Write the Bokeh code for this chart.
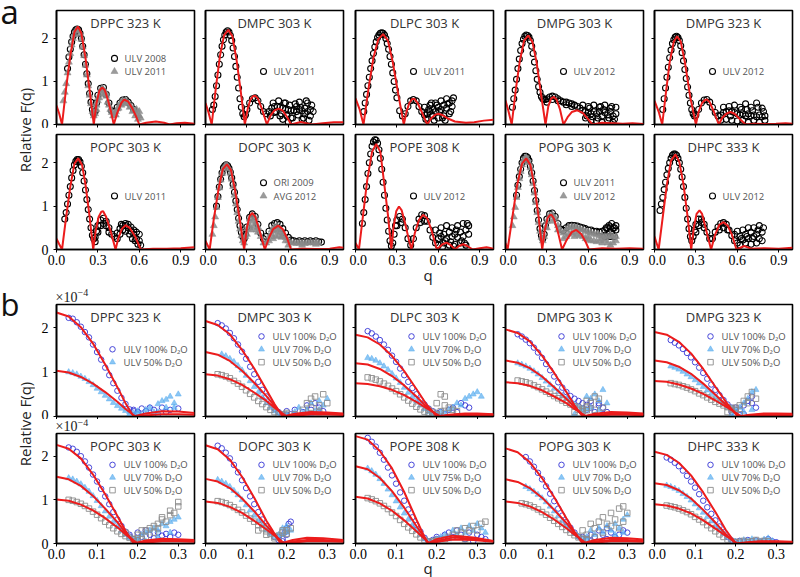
import math
from bokeh.plotting import figure
from bokeh.layouts import row, column
from bokeh.models import Range1d, FixedTicker, PrintfTickFormatter, Label
from bokeh.core.properties import value
from bokeh.embed import file_html
from bokeh.resources import INLINE

# ---------------- shared q grids ----------------
QA = [0.04,0.05,0.06,0.07,0.08,0.09,0.10,0.11,0.12,0.13,0.14,0.15,0.16,0.17,0.18,0.19,0.20,
      0.21,0.22,0.23,0.24,0.25,0.26,0.27,0.28,0.29,0.30,0.32,0.34,0.36,0.38,0.40,0.42,0.44,
      0.46,0.48,0.50,0.52,0.54,0.56,0.58,0.60,0.62,0.64,0.66,0.68,0.70,0.72,0.74,0.76,0.78,
      0.80,0.82,0.84]
QB = [0.03,0.04,0.05,0.06,0.07,0.08,0.09,0.10,0.11,0.12,0.13,0.14,0.15,0.16,0.17,0.18,0.19,0.20]

A_XTICKS = [0.0, 0.3, 0.6, 0.9]
B_XTICKS = [0.0, 0.1, 0.2, 0.3]
Y_TICKS = [0, 1, 2]

# ---------------- (a) panels ----------------
DPPC_CQ = [0,0.02,0.04,0.07,0.10,0.13,0.155,0.18,0.21,0.24,0.27,0.29,0.31,0.33,0.35,0.37,0.395,0.415,0.44,0.47,0.49,0.52,0.55,0.575,0.60,0.65,0.72,0.78,0.82,0.87,0.93,1.0]
DPPC_CF = [0.44,0.25,0,0.85,1.6,2.15,2.28,2.12,1.55,0.8,0,0.5,0.78,0.86,0.8,0.6,0.3,0,0.27,0.5,0.58,0.53,0.37,0.2,0,0.04,0.07,0.04,0,0.03,0.04,0.02]
DPPC_08 = [1.3,1.57,1.75,1.92,2.05,2.15,2.2,2.22,2.2,2.12,2.0,1.82,1.62,1.4,1.18,0.95,0.72,0.52,0.35,0.25,0.3,0.5,0.68,0.84,0.86,0.7,0.5,0.32,0.3,0.4,0.5,0.57,0.58,0.52,0.44,0.35]
DPPC_11 = [0.55,0.75,0.95,1.2,1.45,1.65,1.85,2.0,2.1,2.18,2.2,2.18,2.1,1.98,1.8,1.6,1.38,1.15,0.9,0.68,0.48,0.3,0.2,0.25,0.45,0.62,0.78,0.8,0.66,0.45,0.28,0.25,0.36,0.48,0.55,0.56,0.5,0.42,0.33,0.25,0.2]
DPPC_11_XQ = [0.29,0.31,0.33,0.35,0.37,0.39,0.41,0.43,0.45,0.47,0.49,0.51,0.53,0.55,0.57,0.59,0.61,0.60,0.58,0.30,0.33,0.36,0.43,0.47]
DPPC_11_XF = [0.35,0.62,0.72,0.7,0.52,0.35,0.2,0.22,0.38,0.45,0.5,0.48,0.4,0.3,0.2,0.12,0.15,0.3,0.35,0.55,0.85,0.72,0.3,0.52]

DMPC_CQ = [0,0.02,0.045,0.075,0.105,0.135,0.165,0.195,0.225,0.255,0.285,0.305,0.325,0.345,0.36,0.38,0.41,0.445,0.47,0.5,0.53,0.56,0.59,0.62,0.69,0.77,0.85,0.93,1.0]
DMPC_CF = [0.5,0.3,0,0.85,1.6,2.08,2.2,2.05,1.5,0.78,0,0.35,0.58,0.66,0.67,0.6,0.35,0,0.2,0.33,0.37,0.32,0.18,0,0.06,0,0.03,0.05,0.05]
DMPC_11 = [0.35,0.45,0.65,0.9,1.15,1.4,1.62,1.82,1.97,2.08,2.15,2.18,2.15,2.07,1.95,1.78,1.58,1.35,1.1,0.85,0.6,0.4,0.25,0.18,0.22,0.35,0.5,0.6,0.62,0.55,0.42,0.3,0.25,0.3,0.38,0.42,0.42,0.4,0.38,0.35,0.35,0.32,0.33,0.3,0.35,0.32,0.38,0.3,0.35,0.3]
DMPC_11_XQ = [0.47,0.49,0.51,0.53,0.55,0.57,0.59,0.61,0.63,0.65,0.67,0.69,0.71,0.73,0.75,0.77,0.5,0.54,0.58,0.62,0.66,0.7,0.74,0.6,0.68,0.76,0.72,0.56]
DMPC_11_XF = [0.2,0.5,0.3,0.55,0.25,0.5,0.2,0.45,0.15,0.48,0.22,0.4,0.15,0.55,0.1,0.45,0.28,0.2,0.5,0.15,0.42,0.12,0.5,0.05,0.52,0.2,0.25,0.12]

DLPC_CQ = [0,0.03,0.058,0.095,0.13,0.165,0.2,0.235,0.27,0.31,0.35,0.37,0.39,0.41,0.425,0.45,0.49,0.52,0.55,0.58,0.6,0.63,0.67,0.72,0.8,0.86,0.93,1.0]
DLPC_CF = [0.61,0.35,0,0.85,1.55,1.98,2.1,1.95,1.45,0.7,0,0.3,0.5,0.59,0.6,0.5,0.22,0,0.15,0.23,0.25,0.22,0.14,0.07,0.04,0.05,0.09,0.11]
DLPC_11 = [0.3,0.5,0.7,0.9,1.1,1.3,1.48,1.65,1.8,1.92,2.02,2.08,2.12,2.13,2.12,2.08,2.0,1.88,1.75,1.58,1.4,1.2,1.0,0.8,0.62,0.32,0.2,0.25,0.42,0.55,0.58,0.55,0.42,0.3,0.22,0.25,0.3,0.35,0.3,0.4,0.35,0.45,0.38,0.5,0.42]
DLPC_11_XQ = [0.5,0.52,0.54,0.56,0.58,0.6,0.62,0.64,0.66,0.68,0.7,0.53,0.57,0.61,0.65,0.69,0.55,0.59,0.63,0.67,0.71,0.51]
DLPC_11_XF = [0.4,0.15,0.45,0.2,0.5,0.15,0.55,0.2,0.6,0.25,0.55,0.35,0.1,0.3,0.1,0.3,0.5,0.45,0.15,0.48,0.62,0.12]

DMPG3_CQ = [0,0.02,0.045,0.075,0.105,0.135,0.165,0.195,0.225,0.26,0.29,0.31,0.33,0.35,0.37,0.395,0.42,0.45,0.48,0.52,0.56,0.6,0.63,0.7,0.78,0.85,0.92,1.0]
DMPG3_CF = [0.56,0.33,0,0.82,1.5,1.95,2.07,1.92,1.45,0.65,0,0.42,0.6,0.64,0.58,0.35,0,0.17,0.29,0.33,0.27,0.12,0,0.04,0.03,0.02,0.03,0.01]
DMPG3_12 = [0.4,0.6,0.8,1.05,1.3,1.52,1.72,1.88,1.98,2.05,2.08,2.07,2.03,1.95,1.82,1.65,1.45,1.25,1.05,0.88,0.75,0.65,0.6,0.58,0.58,0.6,0.64,0.66,0.64,0.6,0.55,0.52,0.52,0.5,0.48,0.45,0.42,0.38,0.33,0.3,0.28,0.25,0.3,0.25,0.3,0.2,0.28,0.22,0.3,0.2,0.25]
DMPG3_12_XQ = [0.56,0.58,0.6,0.62,0.64,0.66,0.68,0.7,0.72,0.74,0.76,0.78,0.8,0.59,0.63,0.67,0.71,0.75,0.79,0.61,0.69,0.77,0.3,0.34,0.38,0.44,0.48]
DMPG3_12_XF = [0.45,0.15,0.42,0.1,0.45,0.08,0.4,0.05,0.45,0.1,0.38,0.05,0.4,0.2,0.18,0.15,0.35,0.15,0.12,0.38,0.42,0.42,0.52,0.58,0.55,0.46,0.42]

DMPG5_CQ = [0,0.03,0.056,0.085,0.11,0.14,0.164,0.19,0.22,0.26,0.30,0.32,0.345,0.365,0.38,0.4,0.43,0.466,0.49,0.52,0.55,0.58,0.62,0.66,0.72,0.8,0.88,0.95,1.0]
DMPG5_CF = [0.55,0.3,0,0.8,1.45,1.93,2.05,1.93,1.45,0.62,0,0.3,0.5,0.57,0.58,0.52,0.3,0,0.15,0.25,0.29,0.25,0.12,0,0.02,0.01,0.02,0.03,0.02]
DMPG5_12 = [0.35,0.6,0.85,1.1,1.33,1.55,1.73,1.88,1.97,2.03,2.05,2.02,1.95,1.83,1.67,1.48,1.28,1.07,0.87,0.68,0.5,0.35,0.25,0.2,0.22,0.35,0.5,0.57,0.58,0.52,0.4,0.28,0.2,0.22,0.28,0.3,0.32,0.3,0.28,0.25,0.22,0.25,0.2,0.25,0.2,0.22,0.18,0.22,0.18,0.2]
DMPG5_12_XQ = [0.48,0.5,0.52,0.54,0.56,0.58,0.6,0.62,0.64,0.66,0.68,0.7,0.72,0.74,0.76,0.78,0.8,0.55,0.63,0.71,0.79,0.67,0.75]
DMPG5_12_XF = [0.1,0.4,0.12,0.42,0.1,0.45,0.08,0.4,0.1,0.48,0.05,0.4,0.1,0.5,0.05,0.38,0.1,0.2,0.35,0.32,0.3,0.35,0.4]

POPC_CQ = [0,0.02,0.04,0.07,0.10,0.13,0.157,0.185,0.21,0.24,0.266,0.285,0.305,0.325,0.338,0.36,0.39,0.428,0.45,0.475,0.5,0.53,0.57,0.61,0.7,0.8,0.9,1.0]
POPC_CF = [0.25,0.12,0,0.75,1.45,1.98,2.1,1.95,1.5,0.75,0,0.45,0.75,0.87,0.88,0.75,0.45,0,0.28,0.48,0.56,0.5,0.3,0,0.02,0.02,0.03,0.05]
POPC_11 = [0.7,0.85,1.05,1.25,1.45,1.65,1.82,1.95,2.03,2.07,2.07,2.02,1.92,1.77,1.58,1.37,1.15,0.92,0.7,0.5,0.33,0.25,0.28,0.42,0.55,0.68,0.72,0.65,0.5,0.35,0.3,0.38,0.48,0.55,0.55,0.5,0.42,0.35,0.25,0.2]
POPC_11_XQ = [0.3,0.32,0.34,0.36,0.38,0.28,0.44,0.46,0.48,0.5,0.52,0.54,0.56,0.58,0.6,0.61,0.5,0.55,0.59,0.47,0.53,0.57]
POPC_11_XF = [0.4,0.55,0.6,0.55,0.4,0.18,0.25,0.35,0.45,0.6,0.58,0.52,0.45,0.4,0.35,0.1,0.42,0.25,0.12,0.58,0.35,0.2]

DOPC_CQ = [0,0.015,0.03,0.06,0.095,0.125,0.155,0.185,0.215,0.25,0.28,0.3,0.32,0.34,0.36,0.39,0.43,0.46,0.49,0.527,0.56,0.59,0.62,0.7,0.8,0.9,0.97,1.0]
DOPC_CF = [0.2,0.1,0,0.7,1.4,1.85,1.96,1.83,1.35,0.65,0,0.5,0.78,0.84,0.76,0.45,0,0.27,0.47,0.55,0.47,0.27,0,0.02,0.01,0.02,0.05,0.04]
DOPC_09 = [1.0,1.22,1.44,1.62,1.77,1.88,1.93,1.95,1.93,1.87,1.78,1.65,1.5,1.32,1.12,0.92,0.72,0.55,0.4,0.3,0.25,0.35,0.52,0.74,0.82,0.76,0.58,0.38,0.25,0.3,0.42,0.55,0.6,0.62,0.58,0.48,0.38,0.28,0.22,0.2,0.18,0.2,0.18,0.2,0.18,0.2,0.18,0.2,0.18,0.17]
DOPC_12 = [0.35,0.55,0.75,0.97,1.2,1.42,1.6,1.75,1.86,1.92,1.94,1.92,1.86,1.76,1.62,1.45,1.25,1.05,0.85,0.65,0.47,0.32,0.2,0.15,0.3,0.48,0.7,0.78,0.72,0.52,0.3,0.15,0.15,0.3,0.45,0.52,0.53,0.48,0.38,0.28,0.2,0.15,0.15,0.14,0.15,0.15,0.14,0.15,0.16,0.15,0.16,0.15]
DOPC_12_XQ = [0.3,0.32,0.34,0.36,0.38,0.46,0.48,0.5,0.52,0.54,0.56,0.58,0.33,0.35,0.37,0.49,0.51,0.53,0.55,0.6,0.7,0.8]
DOPC_12_XF = [0.35,0.55,0.65,0.6,0.4,0.2,0.35,0.42,0.45,0.4,0.3,0.2,0.45,0.5,0.45,0.25,0.3,0.32,0.28,0.1,0.1,0.12]

POPE_CQ = [0,0.012,0.025,0.055,0.085,0.12,0.15,0.18,0.205,0.235,0.26,0.275,0.295,0.315,0.335,0.36,0.385,0.405,0.43,0.46,0.49,0.52,0.55,0.59,0.63,0.66,0.69,0.72,0.75,0.78,0.81,0.85,0.9,0.95,1.0]
POPE_CF = [0.15,0.08,0,0.8,1.6,2.25,2.43,2.25,1.6,0.8,0,0.5,0.88,0.99,0.9,0.6,0.25,0,0.38,0.68,0.8,0.72,0.45,0,0.12,0.16,0.1,0,0.08,0.12,0.08,0,0.03,0.05,0.02]
POPE_12 = [0.6,0.85,1.15,1.45,1.75,2.0,2.2,2.38,2.48,2.53,2.52,2.45,2.3,2.1,1.85,1.55,1.25,0.95,0.68,0.42,0.2,0.08,0.15,0.35,0.55,0.68,0.76,0.7,0.5,0.25,0.1,0.25,0.5,0.7,0.8,0.78,0.65,0.45,0.28,0.15,0.25,0.3,0.35,0.25,0.4,0.3,0.35,0.28,0.4,0.3,0.45,0.35]
POPE_12_XQ = [0.58,0.6,0.62,0.64,0.66,0.68,0.7,0.72,0.74,0.76,0.78,0.8,0.82,0.61,0.65,0.69,0.73,0.77,0.81,0.63,0.71,0.79,0.3,0.33,0.47,0.5]
POPE_12_XF = [0.45,0.1,0.5,0.15,0.55,0.1,0.5,0.12,0.55,0.15,0.6,0.1,0.55,0.38,0.2,0.18,0.45,0.2,0.6,0.05,0.08,0.15,0.55,0.62,0.62,0.65]

POPG_CQ = [0,0.015,0.05,0.085,0.12,0.15,0.18,0.21,0.24,0.266,0.285,0.305,0.32,0.332,0.35,0.38,0.41,0.44,0.48,0.513,0.55,0.58,0.605,0.7,0.8,0.9,1.0]
POPG_CF = [0.15,0,0.75,1.5,1.98,2.1,1.95,1.45,0.75,0,0.45,0.72,0.79,0.8,0.72,0.4,0,0.2,0.4,0.45,0.35,0.18,0,0.03,0.02,0.03,0.02]
POPG_11 = [1.25,1.48,1.68,1.85,2.0,2.1,2.15,2.15,2.12,2.05,1.92,1.77,1.58,1.36,1.13,0.9,0.68,0.48,0.32,0.25,0.35,0.55,0.7,0.82,0.84,0.76,0.6,0.47,0.44,0.5,0.55,0.56,0.55,0.54,0.52,0.5,0.48,0.45,0.45,0.42,0.42,0.4,0.42,0.45,0.5,0.52,0.5,0.45]
POPG_11_XQ = [0.72,0.74,0.75,0.76,0.77,0.78,0.79,0.8,0.73,0.76,0.79]
POPG_11_XF = [0.3,0.35,0.55,0.3,0.6,0.35,0.5,0.55,0.5,0.4,0.3]
POPG_12 = [0.55,0.75,0.97,1.2,1.43,1.63,1.8,1.95,2.05,2.1,2.12,2.08,2.0,1.88,1.72,1.52,1.3,1.08,0.85,0.62,0.42,0.28,0.2,0.3,0.5,0.65,0.78,0.8,0.72,0.55,0.42,0.38,0.45,0.5,0.52,0.52,0.5,0.47,0.45,0.42,0.4,0.38,0.35,0.35,0.32,0.32,0.3,0.3,0.32,0.3,0.3]
POPG_12_XQ = [0.42,0.44,0.46,0.48,0.5,0.52,0.54,0.56,0.58,0.6,0.62,0.64,0.66,0.68,0.7,0.72,0.74,0.76,0.78,0.8,0.5,0.6,0.7,0.3,0.34,0.38]
POPG_12_XF = [0.25,0.3,0.35,0.38,0.4,0.35,0.32,0.3,0.25,0.22,0.2,0.2,0.18,0.2,0.15,0.2,0.15,0.1,0.15,0.2,0.3,0.3,0.25,0.5,0.65,0.45]

DHPC_CQ = [0,0.015,0.03,0.06,0.09,0.12,0.152,0.18,0.21,0.24,0.266,0.285,0.305,0.326,0.345,0.37,0.41,0.44,0.47,0.5,0.53,0.56,0.594,0.65,0.7,0.8,0.9,1.0]
DHPC_CF = [0.3,0.15,0,0.75,1.5,2.05,2.19,2.02,1.5,0.75,0,0.5,0.82,0.9,0.82,0.5,0,0.35,0.57,0.63,0.55,0.35,0,0.08,0.02,0.03,0.02,0.04]
DHPC_12 = [0.9,1.05,1.2,1.38,1.55,1.72,1.87,2.0,2.1,2.17,2.2,2.2,2.17,2.1,2.0,1.85,1.67,1.45,1.2,0.95,0.7,0.48,0.3,0.2,0.3,0.45,0.58,0.7,0.7,0.58,0.4,0.25,0.25,0.4,0.52,0.6,0.62,0.58,0.45,0.32,0.2,0.15,0.3,0.22,0.35,0.25,0.4,0.3,0.35,0.25,0.4]
DHPC_12_XQ = [0.3,0.32,0.34,0.36,0.58,0.6,0.62,0.64,0.66,0.68,0.7,0.72,0.74,0.76,0.78,0.63,0.67,0.71,0.75,0.79,0.47,0.5,0.53]
DHPC_12_XF = [0.4,0.55,0.62,0.5,0.35,0.42,0.1,0.45,0.15,0.5,0.12,0.5,0.15,0.55,0.2,0.25,0.3,0.25,0.45,0.5,0.45,0.5,0.45]

# ---------------- (b) panels (values in units of 1e-4) ----------------
BQ_DPPC_1 = [0,0.03,0.06,0.09,0.12,0.15,0.17,0.19,0.22,0.26,0.30,0.34]
BF_DPPC_1 = [2.34,2.25,2.01,1.64,1.17,0.66,0.3,0,0.07,0.12,0.11,0.08]
BQ_DPPC_2 = [0,0.03,0.06,0.09,0.12,0.15,0.17,0.195,0.225,0.26,0.30,0.34]
BF_DPPC_2 = [1.03,0.99,0.89,0.74,0.55,0.33,0.17,0,0.03,0.05,0.05,0.04]
BD_DPPC_100 = [2.22,2.2,2.12,2.02,1.9,1.78,1.62,1.45,1.28,1.1,0.93,0.75,0.58,0.42,0.28,0.16,0.12,0.1]
BX_DPPC_100_Q = [0.19,0.2,0.21,0.22,0.23,0.24,0.25,0.26,0.27,0.28,0.3]
BX_DPPC_100_F = [0.15,0.05,0.18,0.12,0.2,0.15,0.05,0.2,0.1,0.15,0.18]
BD_DPPC_50 = [1.0,0.98,0.95,0.9,0.85,0.78,0.71,0.63,0.55,0.47,0.39,0.31,0.24,0.18,0.13,0.1,0.08,0.06]
BX_DPPC_50_Q = [0.18,0.2,0.21,0.22,0.23,0.24,0.25,0.26,0.27,0.28,0.29,0.3,0.29,0.27,0.25,0.22]
BX_DPPC_50_F = [0.05,0.12,0.03,0.15,0.2,0.1,0.28,0.35,0.2,0.45,0.3,0.5,0.2,0.38,0.1,0.05]

BQ_DMPC_1 = [0,0.03,0.06,0.09,0.12,0.15,0.17,0.19,0.22,0.26,0.30,0.34]
BF_DMPC_1 = [2.15,2.06,1.85,1.5,1.08,0.6,0.28,0,0.06,0.1,0.09,0.07]
BQ_DMPC_2 = [0,0.03,0.06,0.09,0.12,0.15,0.17,0.195,0.225,0.26,0.30,0.34]
BF_DMPC_2 = [1.45,1.39,1.25,1.03,0.76,0.46,0.24,0,0.04,0.07,0.07,0.05]
BQ_DMPC_3 = [0,0.03,0.06,0.09,0.12,0.15,0.17,0.2,0.23,0.26,0.30,0.34]
BF_DMPC_3 = [0.95,0.92,0.84,0.71,0.54,0.35,0.2,0,0.03,0.045,0.045,0.035]
BD_DMPC_100 = [2.1,2.05,1.98,1.88,1.76,1.62,1.46,1.3,1.12,0.95,0.78,0.6,0.45,0.3,0.18,0.1,0.05,0.03]
BX_DMPC_100_Q = [0.19,0.2,0.21,0.22,0.24,0.25,0.26,0.27,0.28,0.29]
BX_DMPC_100_F = [0.02,0.12,0.05,0.15,0.1,0.25,0.15,0.3,0.2,0.12]
BD_DMPC_70 = [1.4,1.36,1.3,1.23,1.14,1.04,0.92,0.8,0.67,0.54,0.42,0.3,0.2,0.12,0.07,0.04,0.03]
BX_DMPC_70_Q = [0.2,0.22,0.23,0.24,0.25,0.26,0.27,0.28,0.29,0.3,0.26,0.28]
BX_DMPC_70_F = [0.05,0.1,0.2,0.08,0.15,0.3,0.12,0.35,0.25,0.4,0.05,0.15]
BD_DMPC_50 = [0.95,0.93,0.9,0.86,0.8,0.74,0.67,0.59,0.51,0.43,0.35,0.28,0.21,0.15,0.1,0.06,0.05,0.04]
BX_DMPC_50_Q = [0.2,0.22,0.24,0.25,0.26,0.27,0.28,0.29,0.3,0.28,0.26]
BX_DMPC_50_F = [0.08,0.05,0.15,0.3,0.2,0.45,0.25,0.5,0.3,0.1,0.4]

BQ_DLPC_1 = [0,0.03,0.06,0.09,0.12,0.15,0.175,0.2,0.23,0.27,0.30,0.34]
BF_DLPC_1 = [1.84,1.78,1.62,1.36,1.02,0.62,0.27,0,0.04,0.07,0.07,0.05]
BQ_DLPC_2 = [0,0.03,0.06,0.09,0.12,0.15,0.175,0.205,0.235,0.27,0.30,0.34]
BF_DLPC_2 = [1.2,1.17,1.07,0.91,0.7,0.45,0.22,0,0.03,0.05,0.05,0.04]
BQ_DLPC_3 = [0,0.03,0.06,0.09,0.12,0.15,0.175,0.21,0.24,0.27,0.30,0.34]
BF_DLPC_3 = [0.75,0.73,0.68,0.6,0.48,0.33,0.19,0,0.02,0.03,0.03,0.03]
BD_DLPC_100 = [1.92,1.87,1.8,1.72,1.62,1.5,1.37,1.23,1.08,0.93,0.78,0.64,0.5,0.38,0.27,0.18,0.12,0.08]
BX_DLPC_100_Q = [0.19,0.2,0.21,0.22,0.23,0.24,0.25,0.26,0.27,0.28]
BX_DLPC_100_F = [0.05,0.02,0.1,0.05,0.15,0.2,0.1,0.3,0.25,0.2]
BD_DLPC_70 = [1.32,1.3,1.26,1.2,1.13,1.05,0.96,0.86,0.76,0.65,0.54,0.44,0.34,0.25,0.17,0.1,0.05,0.03]
BX_DLPC_70_Q = [0.2,0.21,0.22,0.23,0.24,0.25,0.26,0.27,0.28,0.29,0.3,0.31]
BX_DLPC_70_F = [0.02,0.1,0.05,0.15,0.2,0.3,0.25,0.4,0.45,0.5,0.55,0.45]
BD_DLPC_50 = [0.88,0.86,0.83,0.79,0.74,0.69,0.63,0.57,0.5,0.43,0.36,0.29,0.22,0.16,0.11,0.08,0.06,0.05]
BX_DLPC_50_Q = [0.18,0.19,0.2,0.21,0.22,0.23,0.24,0.25,0.22,0.2,0.21,0.22]
BX_DLPC_50_F = [0.15,0.1,0.05,0.12,0.08,0.2,0.15,0.12,0.25,0.3,0.5,0.45]

BQ_DMPG3_1 = [0,0.03,0.06,0.09,0.12,0.15,0.17,0.19,0.22,0.26,0.30,0.34]
BF_DMPG3_1 = [1.96,1.88,1.69,1.37,0.98,0.55,0.25,0,0.06,0.1,0.09,0.07]
BQ_DMPG3_2 = [0,0.03,0.06,0.09,0.12,0.15,0.17,0.195,0.225,0.26,0.30,0.34]
BF_DMPG3_2 = [1.26,1.21,1.09,0.9,0.66,0.4,0.21,0,0.04,0.06,0.06,0.05]
BQ_DMPG3_3 = [0,0.03,0.06,0.09,0.12,0.15,0.17,0.2,0.23,0.26,0.30,0.34]
BF_DMPG3_3 = [0.77,0.75,0.69,0.59,0.45,0.3,0.17,0,0.03,0.04,0.04,0.03]
BD_DMPG3_100 = [1.85,1.8,1.73,1.65,1.55,1.44,1.32,1.18,1.04,0.9,0.77,0.65,0.55,0.46,0.4,0.35,0.3,0.26]
BX_DMPG3_100_Q = [0.2,0.21,0.22,0.23,0.24,0.25,0.21,0.23,0.24,0.22]
BX_DMPG3_100_F = [0.15,0.2,0.1,0.25,0.2,0.1,0.35,0.3,0.05,0.02]
BD_DMPG3_70 = [1.2,1.17,1.13,1.08,1.02,0.95,0.87,0.79,0.71,0.63,0.55,0.47,0.4,0.33,0.27,0.22,0.18,0.15]
BX_DMPG3_70_Q = [0.17,0.19,0.2,0.21,0.22,0.23,0.24,0.25,0.23,0.21]
BX_DMPG3_70_F = [0.05,0.1,0.45,0.2,0.5,0.35,0.6,0.3,0.15,0.4]
BD_DMPG3_50 = [0.81,0.79,0.77,0.74,0.7,0.66,0.61,0.56,0.51,0.46,0.41,0.36,0.31,0.27,0.23,0.2,0.17,0.14]
BX_DMPG3_50_Q = [0.17,0.18,0.19,0.2,0.21,0.22,0.23,0.24,0.2,0.22]
BX_DMPG3_50_F = [0.1,0.15,0.12,0.2,0.3,0.15,0.4,0.2,0.35,0.45]

BQ_DMPG5_1 = [0,0.03,0.06,0.09,0.12,0.15,0.18,0.205,0.235,0.27,0.30,0.34]
BF_DMPG5_1 = [1.9,1.84,1.68,1.42,1.07,0.67,0.28,0,0.04,0.07,0.07,0.06]
BQ_DMPG5_2 = [0,0.03,0.06,0.09,0.12,0.15,0.18,0.21,0.24,0.27,0.30,0.34]
BF_DMPG5_2 = [1.26,1.22,1.12,0.96,0.74,0.49,0.23,0,0.03,0.05,0.05,0.04]
BQ_DMPG5_3 = [0,0.03,0.06,0.09,0.12,0.15,0.18,0.215,0.245,0.27,0.30,0.34]
BF_DMPG5_3 = [0.8,0.78,0.72,0.63,0.51,0.36,0.2,0,0.02,0.03,0.03,0.03]
BD_DMPG5_100 = [1.72,1.66,1.6,1.52,1.43,1.33,1.22,1.1,0.98,0.85,0.72,0.6,0.48,0.37,0.27,0.2,0.15]
BX_DMPG5_100_Q = [0.19,0.2,0.21,0.22,0.23,0.24,0.25,0.22,0.24]
BX_DMPG5_100_F = [0.1,0.2,0.15,0.25,0.35,0.3,0.2,0.05,0.45]
BD_DMPG5_70 = [1.13,1.1,1.06,1.01,0.95,0.89,0.82,0.75,0.67,0.59,0.51,0.43,0.35,0.28,0.22,0.17,0.13]
BX_DMPG5_70_Q = [0.19,0.2,0.21,0.22,0.23,0.24,0.25,0.24,0.22]
BX_DMPG5_70_F = [0.05,0.1,0.2,0.3,0.4,0.55,0.6,0.15,0.1]
BD_DMPG5_50 = [0.75,0.73,0.71,0.68,0.65,0.61,0.57,0.52,0.48,0.43,0.38,0.33,0.29,0.25,0.21,0.18,0.15]
BX_DMPG5_50_Q = [0.18,0.19,0.2,0.21,0.22,0.23,0.24,0.25,0.23,0.21]
BX_DMPG5_50_F = [0.1,0.15,0.2,0.25,0.35,0.45,0.55,0.4,0.3,0.05]

BQ_POPC_1 = [0,0.03,0.06,0.09,0.12,0.15,0.17,0.19,0.22,0.26,0.30,0.34]
BF_POPC_1 = [2.26,2.17,1.95,1.58,1.13,0.63,0.29,0,0.07,0.11,0.1,0.08]
BQ_POPC_2 = [0,0.03,0.06,0.09,0.12,0.15,0.17,0.195,0.225,0.26,0.30,0.34]
BF_POPC_2 = [1.53,1.47,1.32,1.09,0.8,0.49,0.25,0,0.05,0.08,0.07,0.06]
BQ_POPC_3 = [0,0.03,0.06,0.09,0.12,0.15,0.17,0.2,0.23,0.26,0.30,0.34]
BF_POPC_3 = [1.01,0.98,0.89,0.76,0.58,0.37,0.21,0,0.03,0.05,0.05,0.04]
BD_POPC_100 = [2.2,2.17,2.1,2.0,1.88,1.74,1.58,1.42,1.25,1.08,0.9,0.72,0.55,0.4,0.27,0.16,0.1,0.08]
BX_POPC_100_Q = [0.18,0.19,0.2,0.21,0.22,0.23,0.24,0.25,0.26,0.27,0.28,0.29,0.3]
BX_POPC_100_F = [0.2,0.1,0.25,0.15,0.3,0.2,0.12,0.25,0.18,0.22,0.15,0.25,0.2]
BD_POPC_70 = [1.5,1.47,1.42,1.36,1.28,1.19,1.09,0.98,0.86,0.74,0.62,0.5,0.39,0.29,0.2,0.13,0.08,0.06]
BX_POPC_70_Q = [0.2,0.21,0.22,0.23,0.24,0.25,0.26,0.27,0.28,0.29,0.3,0.22,0.25,0.28]
BX_POPC_70_F = [0.1,0.2,0.25,0.3,0.35,0.3,0.45,0.4,0.5,0.55,0.6,0.05,0.15,0.25]
BD_POPC_50 = [1.0,0.98,0.95,0.91,0.86,0.8,0.73,0.66,0.58,0.5,0.42,0.35,0.28,0.22,0.17,0.13,0.1,0.12]
BX_POPC_50_Q = [0.17,0.19,0.2,0.21,0.22,0.23,0.24,0.25,0.26,0.27,0.28,0.29,0.3,0.22,0.24,0.26,0.28,0.3,0.21,0.25]
BX_POPC_50_F = [0.25,0.05,0.2,0.3,0.15,0.35,0.4,0.45,0.55,0.5,0.65,0.7,0.85,0.3,0.25,0.6,0.75,0.95,0.1,0.35]

BQ_DOPC_1 = [0,0.03,0.06,0.09,0.12,0.15,0.165,0.185,0.215,0.25,0.29,0.34]
BF_DOPC_1 = [2.25,2.16,1.92,1.53,1.05,0.52,0.3,0,0.08,0.13,0.12,0.08]
BQ_DOPC_2 = [0,0.03,0.06,0.09,0.12,0.15,0.165,0.19,0.22,0.25,0.29,0.34]
BF_DOPC_2 = [1.48,1.42,1.27,1.03,0.74,0.41,0.26,0,0.05,0.08,0.08,0.06]
BQ_DOPC_3 = [0,0.03,0.06,0.09,0.12,0.15,0.165,0.195,0.225,0.25,0.29,0.34]
BF_DOPC_3 = [0.96,0.93,0.84,0.7,0.52,0.32,0.22,0,0.03,0.05,0.05,0.04]
BD_DOPC_100 = [2.24,2.18,2.08,1.95,1.8,1.63,1.45,1.27,1.08,0.9,0.72,0.55,0.4,0.27,0.15,0.08,0.1,0.2]
BX_DOPC_100_Q = [0.18,0.19,0.2,0.21,0.205,0.195]
BX_DOPC_100_F = [0.15,0.05,0.35,0.5,0.45,0.25]
BD_DOPC_70 = [1.46,1.42,1.37,1.3,1.21,1.11,1.0,0.88,0.76,0.64,0.52,0.41,0.31,0.22,0.15,0.12,0.2,0.3]
BX_DOPC_70_Q = [0.19,0.2,0.21,0.2,0.18]
BX_DOPC_70_F = [0.35,0.25,0.3,0.4,0.2]
BD_DOPC_50 = [0.97,0.95,0.92,0.88,0.83,0.77,0.71,0.64,0.57,0.5,0.42,0.35,0.28,0.22,0.16,0.18,0.25,0.3]
BX_DOPC_50_Q = [0.15,0.17,0.19,0.2,0.21,0.13]
BX_DOPC_50_F = [0.2,0.12,0.3,0.22,0.35,0.3]

BQ_POPE_1 = [0,0.03,0.06,0.09,0.12,0.15,0.165,0.178,0.2,0.24,0.29,0.34]
BF_POPE_1 = [2.46,2.38,2.12,1.72,1.18,0.55,0.25,0,0.1,0.18,0.14,0.06]
BQ_POPE_2 = [0,0.03,0.06,0.09,0.12,0.15,0.165,0.18,0.205,0.24,0.29,0.34]
BF_POPE_2 = [1.77,1.7,1.5,1.2,0.82,0.4,0.2,0,0.07,0.14,0.11,0.05]
BQ_POPE_3 = [0,0.03,0.06,0.09,0.12,0.15,0.165,0.183,0.21,0.24,0.29,0.34]
BF_POPE_3 = [1.07,1.03,0.92,0.75,0.53,0.28,0.15,0,0.05,0.09,0.08,0.04]
BD_POPE_100 = [2.42,2.33,2.22,2.08,1.92,1.74,1.56,1.37,1.17,0.98,0.78,0.6,0.42,0.27,0.13,0.05,0.08,0.1]
BX_POPE_100_Q = [0.2,0.21,0.22,0.23,0.24,0.25,0.26,0.27,0.28,0.29,0.3,0.31,0.32]
BX_POPE_100_F = [0.15,0.1,0.2,0.25,0.15,0.3,0.2,0.1,0.25,0.05,0.2,0.15,0.1]
BD_POPE_75 = [1.72,1.66,1.58,1.48,1.37,1.24,1.11,0.97,0.83,0.69,0.55,0.42,0.3,0.2,0.1,0.04,0.06,0.1]
BX_POPE_75_Q = [0.21,0.22,0.23,0.24,0.25,0.26,0.27,0.28,0.29,0.3,0.31,0.32]
BX_POPE_75_F = [0.15,0.2,0.1,0.3,0.2,0.35,0.25,0.4,0.3,0.45,0.35,0.25]
BD_POPE_50 = [1.04,1.01,0.97,0.92,0.86,0.79,0.71,0.63,0.54,0.45,0.37,0.29,0.21,0.14,0.08,0.04,0.05,0.08]
BX_POPE_50_Q = [0.2,0.22,0.24,0.25,0.26,0.27,0.28,0.29,0.3,0.31,0.32,0.23,0.27]
BX_POPE_50_F = [0.05,0.1,0.2,0.3,0.25,0.35,0.3,0.4,0.3,0.45,0.5,0.15,0.1]

BQ_POPG_1 = [0,0.03,0.06,0.09,0.12,0.15,0.17,0.19,0.22,0.26,0.30,0.34]
BF_POPG_1 = [2.18,2.09,1.86,1.5,1.06,0.58,0.27,0,0.08,0.13,0.12,0.09]
BQ_POPG_2 = [0,0.03,0.06,0.09,0.12,0.15,0.17,0.195,0.225,0.26,0.30,0.34]
BF_POPG_2 = [1.47,1.41,1.27,1.05,0.77,0.47,0.24,0,0.05,0.08,0.08,0.06]
BQ_POPG_3 = [0,0.03,0.06,0.09,0.12,0.15,0.17,0.2,0.23,0.26,0.30,0.34]
BF_POPG_3 = [0.96,0.93,0.85,0.72,0.55,0.35,0.2,0,0.03,0.05,0.05,0.04]
BD_POPG_100 = [1.98,1.88,1.76,1.62,1.47,1.31,1.14,0.97,0.8,0.64,0.49,0.36,0.25,0.16,0.1,0.08]
BX_POPG_100_Q = [0.19,0.2,0.21,0.22,0.23,0.24,0.25,0.26,0.27,0.28,0.29,0.3,0.21,0.25]
BX_POPG_100_F = [0.15,0.1,0.2,0.15,0.3,0.2,0.1,0.25,0.15,0.2,0.3,0.25,0.05,0.35]
BD_POPG_70 = [1.3,1.25,1.19,1.12,1.04,0.95,0.85,0.74,0.63,0.52,0.41,0.31,0.22,0.15,0.1,0.08]
BX_POPG_70_Q = [0.2,0.21,0.22,0.23,0.24,0.25,0.26,0.27,0.28,0.29,0.3,0.29,0.27]
BX_POPG_70_F = [0.15,0.3,0.2,0.35,0.25,0.4,0.3,0.45,0.35,0.55,0.65,0.25,0.2]
BD_POPG_50 = [0.92,0.9,0.87,0.83,0.78,0.72,0.66,0.59,0.52,0.45,0.38,0.31,0.25,0.19,0.14,0.11,0.1]
BX_POPG_50_Q = [0.19,0.2,0.21,0.22,0.23,0.24,0.25,0.26,0.27,0.28,0.29,0.3,0.29,0.28,0.26,0.24,0.22]
BX_POPG_50_F = [0.3,0.2,0.45,0.35,0.5,0.6,0.45,0.7,0.55,0.8,0.85,0.7,0.5,0.35,0.4,0.25,0.15]

BQ_DHPC_1 = [0,0.03,0.06,0.09,0.12,0.15,0.175,0.2,0.23,0.26,0.30,0.34]
BF_DHPC_1 = [2.1,2.03,1.85,1.56,1.17,0.72,0.32,0,0.03,0.05,0.05,0.04]
BQ_DHPC_2 = [0,0.03,0.06,0.09,0.12,0.15,0.175,0.2,0.23,0.26,0.30,0.34]
BF_DHPC_2 = [1.38,1.34,1.22,1.03,0.77,0.48,0.22,0,0.02,0.04,0.04,0.03]
BQ_DHPC_3 = [0,0.03,0.06,0.09,0.12,0.15,0.175,0.205,0.235,0.26,0.30,0.34]
BF_DHPC_3 = [0.9,0.87,0.8,0.69,0.53,0.34,0.18,0,0.02,0.03,0.03,0.03]
BD_DHPC_100 = [1.97,1.92,1.85,1.77,1.67,1.55,1.42,1.28,1.13,0.98,0.83,0.68,0.53,0.39,0.26,0.15,0.07,0.04]
BX_DHPC_100_Q = [0.2,0.21,0.22,0.23,0.24,0.25,0.26,0.27,0.28,0.29,0.3]
BX_DHPC_100_F = [0.03,0.06,0.04,0.08,0.05,0.07,0.04,0.06,0.1,0.05,0.03]
BD_DHPC_70 = [1.33,1.3,1.26,1.21,1.14,1.07,0.99,0.9,0.81,0.71,0.61,0.51,0.41,0.31,0.22,0.14,0.08,0.04]
BX_DHPC_70_Q = [0.21,0.22,0.23,0.24,0.25,0.26,0.27,0.28,0.29]
BX_DHPC_70_F = [0.05,0.08,0.06,0.1,0.07,0.05,0.09,0.12,0.06]
BD_DHPC_50 = [0.87,0.85,0.83,0.8,0.76,0.72,0.67,0.61,0.55,0.49,0.42,0.35,0.28,0.21,0.15,0.09,0.05,0.03]
BX_DHPC_50_Q = [0.21,0.22,0.23,0.24,0.25,0.26,0.27,0.28]
BX_DHPC_50_F = [0.04,0.06,0.03,0.05,0.08,0.04,0.06,0.05]

D2O_100 = "ULV 100% D\u2082O"
D2O_70 = "ULV 70% D\u2082O"
D2O_75 = "ULV 75% D\u2082O"
D2O_50 = "ULV 50% D\u2082O"

A_PANELS = [
    ("DPPC 323 K", [(DPPC_CQ, DPPC_CF)], [("kc", 0.08, DPPC_08, [], [], "ULV 2008"),
                                          ("gt", 0.05, DPPC_11, DPPC_11_XQ, DPPC_11_XF, "ULV 2011")]),
    ("DMPC 303 K", [(DMPC_CQ, DMPC_CF)], [("kc", 0.05, DMPC_11, DMPC_11_XQ, DMPC_11_XF, "ULV 2011")]),
    ("DLPC 303 K", [(DLPC_CQ, DLPC_CF)], [("kc", 0.06, DLPC_11, DLPC_11_XQ, DLPC_11_XF, "ULV 2011")]),
    ("DMPG 303 K", [(DMPG3_CQ, DMPG3_CF)], [("kc", 0.05, DMPG3_12, DMPG3_12_XQ, DMPG3_12_XF, "ULV 2012")]),
    ("DMPG 323 K", [(DMPG5_CQ, DMPG5_CF)], [("kc", 0.06, DMPG5_12, DMPG5_12_XQ, DMPG5_12_XF, "ULV 2012")]),
    ("POPC 303 K", [(POPC_CQ, POPC_CF)], [("kc", 0.06, POPC_11, POPC_11_XQ, POPC_11_XF, "ULV 2011")]),
    ("DOPC 303 K", [(DOPC_CQ, DOPC_CF)], [("kc", 0.08, DOPC_09, [], [], "ORI 2009"),
                                          ("gt", 0.05, DOPC_12, DOPC_12_XQ, DOPC_12_XF, "AVG 2012")]),
    ("POPE 308 K", [(POPE_CQ, POPE_CF)], [("kc", 0.05, POPE_12, POPE_12_XQ, POPE_12_XF, "ULV 2012")]),
    ("POPG 303 K", [(POPG_CQ, POPG_CF)], [("kc", 0.08, POPG_11, POPG_11_XQ, POPG_11_XF, "ULV 2011"),
                                          ("gt", 0.05, POPG_12, POPG_12_XQ, POPG_12_XF, "ULV 2012")]),
    ("DHPC 333 K", [(DHPC_CQ, DHPC_CF)], [("kc", 0.04, DHPC_12, DHPC_12_XQ, DHPC_12_XF, "ULV 2012")]),
]

B_PANELS = [
    ("DPPC 323 K", [(BQ_DPPC_1, BF_DPPC_1), (BQ_DPPC_2, BF_DPPC_2)],
     [("bc", 0.03, BD_DPPC_100, BX_DPPC_100_Q, BX_DPPC_100_F, D2O_100),
      ("lt", 0.03, BD_DPPC_50, BX_DPPC_50_Q, BX_DPPC_50_F, D2O_50)]),
    ("DMPC 303 K", [(BQ_DMPC_1, BF_DMPC_1), (BQ_DMPC_2, BF_DMPC_2), (BQ_DMPC_3, BF_DMPC_3)],
     [("bc", 0.03, BD_DMPC_100, BX_DMPC_100_Q, BX_DMPC_100_F, D2O_100),
      ("lt", 0.04, BD_DMPC_70, BX_DMPC_70_Q, BX_DMPC_70_F, D2O_70),
      ("gs", 0.03, BD_DMPC_50, BX_DMPC_50_Q, BX_DMPC_50_F, D2O_50)]),
    ("DLPC 303 K", [(BQ_DLPC_1, BF_DLPC_1), (BQ_DLPC_2, BF_DLPC_2), (BQ_DLPC_3, BF_DLPC_3)],
     [("bc", 0.03, BD_DLPC_100, BX_DLPC_100_Q, BX_DLPC_100_F, D2O_100),
      ("lt", 0.03, BD_DLPC_70, BX_DLPC_70_Q, BX_DLPC_70_F, D2O_70),
      ("gs", 0.03, BD_DLPC_50, BX_DLPC_50_Q, BX_DLPC_50_F, D2O_50)]),
    ("DMPG 303 K", [(BQ_DMPG3_1, BF_DMPG3_1), (BQ_DMPG3_2, BF_DMPG3_2), (BQ_DMPG3_3, BF_DMPG3_3)],
     [("bc", 0.03, BD_DMPG3_100, BX_DMPG3_100_Q, BX_DMPG3_100_F, D2O_100),
      ("lt", 0.03, BD_DMPG3_70, BX_DMPG3_70_Q, BX_DMPG3_70_F, D2O_70),
      ("gs", 0.03, BD_DMPG3_50, BX_DMPG3_50_Q, BX_DMPG3_50_F, D2O_50)]),
    ("DMPG 323 K", [(BQ_DMPG5_1, BF_DMPG5_1), (BQ_DMPG5_2, BF_DMPG5_2), (BQ_DMPG5_3, BF_DMPG5_3)],
     [("bc", 0.04, BD_DMPG5_100, BX_DMPG5_100_Q, BX_DMPG5_100_F, D2O_100),
      ("lt", 0.04, BD_DMPG5_70, BX_DMPG5_70_Q, BX_DMPG5_70_F, D2O_70),
      ("gs", 0.04, BD_DMPG5_50, BX_DMPG5_50_Q, BX_DMPG5_50_F, D2O_50)]),
    ("POPC 303 K", [(BQ_POPC_1, BF_POPC_1), (BQ_POPC_2, BF_POPC_2), (BQ_POPC_3, BF_POPC_3)],
     [("bc", 0.03, BD_POPC_100, BX_POPC_100_Q, BX_POPC_100_F, D2O_100),
      ("lt", 0.03, BD_POPC_70, BX_POPC_70_Q, BX_POPC_70_F, D2O_70),
      ("gs", 0.03, BD_POPC_50, BX_POPC_50_Q, BX_POPC_50_F, D2O_50)]),
    ("DOPC 303 K", [(BQ_DOPC_1, BF_DOPC_1), (BQ_DOPC_2, BF_DOPC_2), (BQ_DOPC_3, BF_DOPC_3)],
     [("bc", 0.03, BD_DOPC_100, BX_DOPC_100_Q, BX_DOPC_100_F, D2O_100),
      ("lt", 0.03, BD_DOPC_70, BX_DOPC_70_Q, BX_DOPC_70_F, D2O_70),
      ("gs", 0.03, BD_DOPC_50, BX_DOPC_50_Q, BX_DOPC_50_F, D2O_50)]),
    ("POPE 308 K", [(BQ_POPE_1, BF_POPE_1), (BQ_POPE_2, BF_POPE_2), (BQ_POPE_3, BF_POPE_3)],
     [("bc", 0.03, BD_POPE_100, BX_POPE_100_Q, BX_POPE_100_F, D2O_100),
      ("lt", 0.03, BD_POPE_75, BX_POPE_75_Q, BX_POPE_75_F, D2O_75),
      ("gs", 0.03, BD_POPE_50, BX_POPE_50_Q, BX_POPE_50_F, D2O_50)]),
    ("POPG 303 K", [(BQ_POPG_1, BF_POPG_1), (BQ_POPG_2, BF_POPG_2), (BQ_POPG_3, BF_POPG_3)],
     [("bc", 0.05, BD_POPG_100, BX_POPG_100_Q, BX_POPG_100_F, D2O_100),
      ("lt", 0.05, BD_POPG_70, BX_POPG_70_Q, BX_POPG_70_F, D2O_70),
      ("gs", 0.04, BD_POPG_50, BX_POPG_50_Q, BX_POPG_50_F, D2O_50)]),
    ("DHPC 333 K", [(BQ_DHPC_1, BF_DHPC_1), (BQ_DHPC_2, BF_DHPC_2), (BQ_DHPC_3, BF_DHPC_3)],
     [("bc", 0.03, BD_DHPC_100, BX_DHPC_100_Q, BX_DHPC_100_F, D2O_100),
      ("lt", 0.03, BD_DHPC_70, BX_DHPC_70_Q, BX_DHPC_70_F, D2O_70),
      ("gs", 0.03, BD_DHPC_50, BX_DHPC_50_Q, BX_DHPC_50_F, D2O_50)]),
]

# ---------------- styling ----------------
STYLES = {
    "kc": dict(marker="circle", size=6, fill_alpha=0, line_color="black", line_width=1.1),
    "gt": dict(marker="triangle", size=7, fill_color="#8a8a8a", line_color="#8a8a8a", fill_alpha=0.85, line_alpha=0.85, line_width=0.6),
    "bc": dict(marker="circle", size=5.5, fill_alpha=0, line_color="#3535d5", line_width=1.0, line_alpha=0.9),
    "lt": dict(marker="triangle", size=6, fill_color="#5aaef0", line_color="#5aaef0", fill_alpha=0.7, line_alpha=0.85, line_width=0.6),
    "gs": dict(marker="square", size=5.5, fill_alpha=0, line_color="#8c8c8c", line_width=0.9),
}
RED = "#ec1c1c"
SERIF = "Liberation Serif"
SANS = "Open Sans"

FRAME_W = 138
COL_LEFT = [21, 6, 6, 6, 6]
COL_RIGHT = [5, 6, 6, 5, 4]
ROW_TOP = [10, 6, 2, 2]
ROW_FRAME = [114, 115, 112, 110]
ROW_BOT = [4, 22, 3, 22]
STRIP_W = 35
S1_H, S2_H, S3_H = 31, 12, 12
LEG_A_ROWS = {1: [0.535], 2: [0.42, 0.535]}
LEG_B_ROWS = {2: [0.40, 0.515], 3: [0.285, 0.40, 0.515]}


def grid_slice(grid, start, vals):
    i0 = min(range(len(grid)), key=lambda i: abs(grid[i] - start))
    n = min(len(vals), len(grid) - i0)
    return list(grid[i0:i0 + n]), list(vals[:n])


def make_panel(part, r, col, title, curves, sets):
    left, right = COL_LEFT[col], COL_RIGHT[col]
    top, fh, bot = ROW_TOP[r], ROW_FRAME[r], ROW_BOT[r]
    if part == "a":
        xr, yr, xt, grid = (0, 1.0), (0, 2.65), A_XTICKS, QA
    else:
        xr, yr, xt, grid = (0, 0.34), (0, 2.52), B_XTICKS, QB
    p = figure(width=left + FRAME_W + right, height=top + fh + bot,
               x_range=Range1d(*xr), y_range=Range1d(*yr),
               output_backend="svg", toolbar_location=None,
               min_border_left=left, min_border_right=right,
               min_border_top=top, min_border_bottom=bot)
    p.grid.visible = False
    p.outline_line_color = "black"
    p.outline_line_width = 1.6
    p.outline_line_alpha = 1.0
    p.background_fill_color = "white"
    p.border_fill_color = "white"

    for ax, ticks in ((p.xaxis, xt), (p.yaxis, Y_TICKS)):
        ax.ticker = FixedTicker(ticks=ticks)
        ax.minor_tick_line_color = None
        ax.major_tick_in = 0
        ax.major_tick_out = 3
        ax.major_tick_line_width = 1
        ax.axis_line_width = 1.6
        ax.major_label_text_font = SERIF
        ax.major_label_text_color = "black"
    p.xaxis.formatter = PrintfTickFormatter(format="%.1f")
    p.yaxis.formatter = PrintfTickFormatter(format="%d")
    if r in (1, 3):
        p.xaxis.major_label_text_font_size = "14px"
        p.xaxis.major_label_standoff = 2
    else:
        p.xaxis.major_label_text_font_size = "0px"
        p.xaxis.major_label_text_color = None
        p.xaxis.major_label_standoff = 0
    if col == 0:
        p.yaxis.major_label_text_font_size = "14px"
        p.yaxis.major_label_standoff = 5
    else:
        p.yaxis.major_label_text_font_size = "0px"
        p.yaxis.major_label_text_color = None
        p.yaxis.major_label_standoff = 0

    for style, start, vals, xq, xf, lab in sets:
        qs, fs = grid_slice(grid, start, vals)
        p.scatter(qs + list(xq), fs + list(xf), **STYLES[style])
    for cq, cf in curves:
        p.line(cq, cf, line_color=RED, line_width=2)

    p.add_layout(Label(x=(xr[0] + xr[1]) / 2, y=yr[1], y_offset=-3, text=title,
                       text_align="center", text_baseline="top",
                       text_font=SANS, text_font_size="13px", text_color="#333333"))

    # legend drawn inside the frame, placed through the panel's own scales
    n = len(sets)
    if part == "a":
        fracs, mx, tx = LEG_A_ROWS[n], 58, 68
    else:
        fracs, mx, tx = LEG_B_ROWS[n], 56, 67
    xs = xr[1] - xr[0]
    ys = yr[1] - yr[0]
    for (style, _s, _v, _q, _f, lab), fr in zip(sets, fracs):
        yv = yr[1] - fr * ys
        p.scatter([xr[0] + mx / FRAME_W * xs], [yv], **STYLES[style])
        p.text([xr[0] + tx / FRAME_W * xs], [yv], text=[lab], text_font=value(SANS),
               text_font_size=value("9.5px"), text_baseline="middle", text_align="left",
               text_color="#555555")
    return p


rows = []
for part, panels, rbase in (("a", A_PANELS, 0), ("b", B_PANELS, 2)):
    for rr_ in range(2):
        figs = []
        for c in range(5):
            t, cv, ds = panels[rr_ * 5 + c]
            figs.append(make_panel(part, rbase + rr_, c, t, cv, ds))
        rows.append(row(*figs, spacing=0))

TOTAL_H = sum(ROW_TOP) + sum(ROW_FRAME) + sum(ROW_BOT) + S1_H + S2_H + S3_H
RIGHT_W = sum(COL_LEFT) + sum(COL_RIGHT) + 5 * FRAME_W
Q_X = 392.5      # centre of the middle column, px in the strips
EXP_X = 20       # just right of the first column frame edge, px in the strips


def text_fig(w, h):
    s = figure(width=w, height=h, x_range=Range1d(0, w), y_range=Range1d(0, h),
               output_backend="svg", toolbar_location=None, min_border=0,
               x_axis_location=None, y_axis_location=None)
    s.grid.visible = False
    s.outline_line_color = None
    s.background_fill_color = "white"
    s.border_fill_color = "white"
    return s


def add_q(s, y_mid):
    s.add_layout(Label(x=Q_X, y=y_mid, text="q", text_align="center", text_baseline="middle",
                       text_font=SANS, text_font_size="15px", text_color="#222222"))


def add_exp(s, y_mid, sup_mid):
    s.add_layout(Label(x=EXP_X, y=y_mid, text="\u00d710", text_align="left", text_baseline="middle",
                       text_font=SERIF, text_font_size="14px", text_color="#222222"))
    s.add_layout(Label(x=EXP_X + 22, y=sup_mid, text="\u22124", text_align="left",
                       text_baseline="middle", text_font=SERIF, text_font_size="10px",
                       text_color="#222222"))


s1 = text_fig(RIGHT_W, S1_H)
add_q(s1, 27.5)
add_exp(s1, 5.5, 10.4)
s2 = text_fig(RIGHT_W, S2_H)
add_exp(s2, 5, 8.6)
s3 = text_fig(RIGHT_W, S3_H)
add_q(s3, 9.5)

left = text_fig(STRIP_W, TOTAL_H)
left.add_layout(Label(x=0, y=TOTAL_H - 10.5, text="a", text_baseline="middle", text_align="left",
                      text_font=SANS, text_font_size="33px", text_color="#111111"))
left.add_layout(Label(x=0, y=TOTAL_H - 303, text="b", text_baseline="middle", text_align="left",
                      text_font=SANS, text_font_size="31px", text_color="#111111"))
left.add_layout(Label(x=24, y=TOTAL_H - 129.5, text="Relative F(q)", angle=math.pi / 2,
                      text_align="center", text_baseline="middle",
                      text_font=SANS, text_font_size="15px", text_color="#222222"))
left.add_layout(Label(x=24, y=TOTAL_H - 423.5, text="Relative F(q)", angle=math.pi / 2,
                      text_align="center", text_baseline="middle",
                      text_font=SANS, text_font_size="15px", text_color="#222222"))

layout = row(left, column(rows[0], rows[1], s1, rows[2], s2, rows[3], s3, spacing=0), spacing=0)

open("out.html", "w").write(file_html(layout, INLINE))
